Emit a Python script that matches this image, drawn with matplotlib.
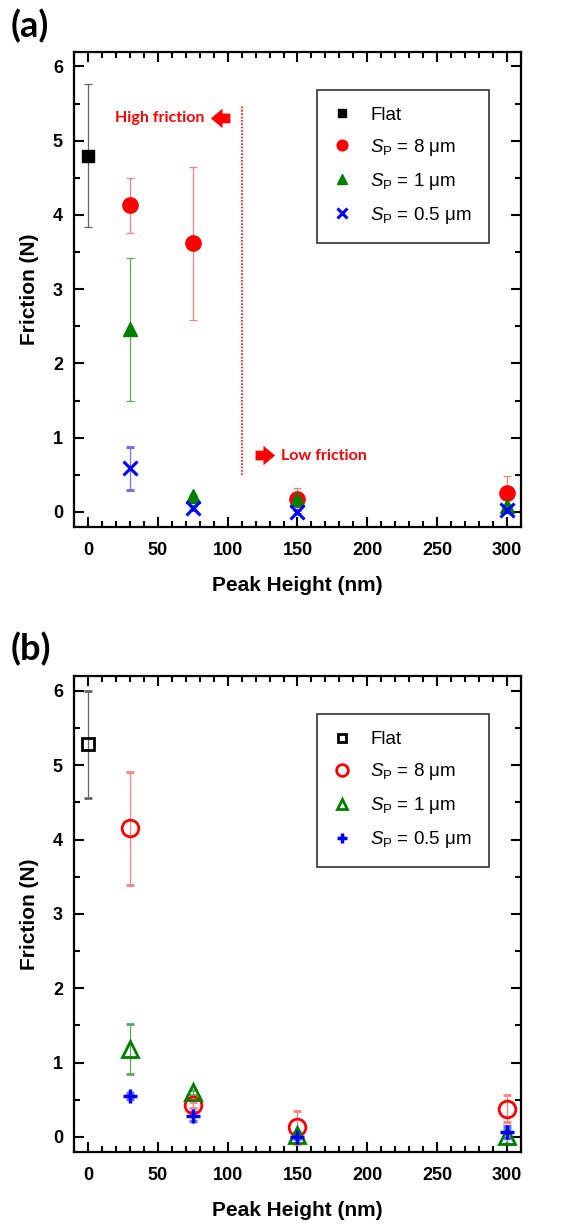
import matplotlib
matplotlib.use("Agg")
import numpy as np
from matplotlib import pyplot as plt
from matplotlib.ticker import MultipleLocator

plt.rcParams['font.family'] = ['Liberation Sans', 'DejaVu Sans']
plt.rcParams['mathtext.fontset'] = 'custom'
plt.rcParams['mathtext.rm'] = 'Liberation Sans'
plt.rcParams['mathtext.it'] = 'Liberation Sans:italic'

# peak heights (nm)
heights = [30, 75, 150, 300]

# panel (a) - filled markers
flat_a, flat_a_err = 4.80, 0.96
sp8_a = [4.13, 3.62, 0.17, 0.25]
sp8_a_err = [0.37, 1.03, 0.15, 0.24]
sp1_a = [2.46, 0.21, 0.17, 0.08]
sp1_a_err = [0.96, 0.03, 0.03, 0.03]
sp05_a = [0.59, 0.05, 0.0, 0.03]
sp05_a_err = [0.29, 0.03, 0.03, 0.03]

# panel (b) - open markers
flat_b, flat_b_err = 5.28, 0.72
sp8_b = [4.15, 0.43, 0.13, 0.38]
sp8_b_err = [0.76, 0.04, 0.22, 0.18]
sp1_b = [1.18, 0.60, 0.03, 0.01]
sp1_b_err = [0.34, 0.03, 0.03, 0.10]
sp05_b = [0.55, 0.28, 0.0, 0.06]
sp05_b_err = [0.04, 0.06, 0.03, 0.08]

labels = ['Flat', r'$S_\mathrm{P}$ = 8 μm', r'$S_\mathrm{P}$ = 1 μm', r'$S_\mathrm{P}$ = 0.5 μm']

fig = plt.figure(figsize=(5.85, 12.28), dpi=100)
ax1 = fig.add_axes([0.1265, 0.571, 0.764, 0.387])
ax2 = fig.add_axes([0.1265, 0.0621, 0.764, 0.3874])


def style(ax):
    ax.set_xlim(-10, 310)
    ax.set_ylim(-0.2, 6.2)
    ax.xaxis.set_major_locator(MultipleLocator(50))
    ax.xaxis.set_minor_locator(MultipleLocator(10))
    ax.yaxis.set_major_locator(MultipleLocator(1))
    ax.yaxis.set_minor_locator(MultipleLocator(0.5))
    ax.tick_params(which='both', direction='in', top=True, right=True, width=1.5)
    ax.tick_params(which='major', length=7.5, labelsize=13)
    ax.tick_params(axis='x', which='major', pad=11)
    ax.tick_params(axis='y', which='major', pad=8)
    ax.tick_params(which='minor', length=4.5)
    for lab in ax.get_xticklabels() + ax.get_yticklabels():
        lab.set_fontweight('bold')
    for sp in ax.spines.values():
        sp.set_linewidth(1.6)
    ax.set_xlabel('Peak Height (nm)', fontsize=15, fontweight='bold', labelpad=12)
    ax.set_ylabel('Friction (N)', fontsize=15, fontweight='bold', labelpad=10)


def add_legend(ax, handles):
    leg = ax.legend(handles, labels, loc='upper right', bbox_to_anchor=(0.928, 0.92),
                    fontsize=13.5, markerscale=0.7, fancybox=False, edgecolor='#333333',
                    framealpha=1, handlelength=0.85, handletextpad=1.1,
                    borderpad=0.9, labelspacing=0.7, borderaxespad=0)
    leg.get_frame().set_linewidth(1.2)


ekw = dict(linestyle='none', elinewidth=0.9, capsize=3, capthick=0.9)
arrow = dict(arrowstyle='simple,head_width=1.0,head_length=0.6,tail_width=0.5',
             color='#ff0000', lw=0, mutation_scale=14, shrinkA=0, shrinkB=0)

# panel (a)
h1 = ax1.errorbar([0], [flat_a], yerr=[flat_a_err], marker='s', ms=9, color='black',
                  ecolor='#666666', **ekw)
h2 = ax1.errorbar(heights, sp8_a, yerr=sp8_a_err, marker='o', ms=11, color='#ff0000',
                  ecolor='#ff8080', **ekw)
h3 = ax1.errorbar(heights, sp1_a, yerr=sp1_a_err, marker='^', ms=10, color='#008000',
                  ecolor='#5aa85a', **ekw)
h4 = ax1.errorbar(heights, sp05_a, yerr=sp05_a_err, marker='x', ms=10, mew=2.2,
                  color='#0000ff', ecolor='#7070ff', **ekw)
style(ax1)
add_legend(ax1, [h1[0], h2[0], h3[0], h4[0]])

ax1.plot([110, 110], [0.5, 5.48], color='#ff0000', ls=(0, (1, 1)), lw=1.2)
ax1.text(19, 5.3, 'High friction', color='#ff0000', fontsize=11.5, family='Lato',
         fontweight='bold', va='center', ha='left')
ax1.annotate('', xy=(88, 5.3), xytext=(102, 5.3), arrowprops=arrow)
ax1.annotate('', xy=(134, 0.76), xytext=(120, 0.76), arrowprops=arrow)
ax1.text(138, 0.76, 'Low friction', color='#ff0000', fontsize=11.5, family='Lato',
         fontweight='bold', va='center', ha='left')

# panel (b)
g1 = ax2.errorbar([0], [flat_b], yerr=[flat_b_err], marker='s', ms=9, mfc='none', mew=2,
                  color='black', ecolor='#666666', **ekw)
g2 = ax2.errorbar(heights, sp8_b, yerr=sp8_b_err, marker='o', ms=12, mfc='none', mew=2,
                  color='#ff0000', ecolor='#ff8080', **ekw)
g3 = ax2.errorbar(heights, sp1_b, yerr=sp1_b_err, marker='^', ms=11, mfc='none', mew=2,
                  color='#008000', ecolor='#5aa85a', **ekw)
g4 = ax2.errorbar(heights, sp05_b, yerr=sp05_b_err, marker='+', ms=10, mew=2.5,
                  color='#0000ff', ecolor='#7070ff', **ekw)
style(ax2)
add_legend(ax2, [g1[0], g2[0], g3[0], g4[0]])

fig.text(0.018, 0.979, '(a)', fontsize=26, fontweight='bold', family='Lato', va='center')
fig.text(0.018, 0.4715, '(b)', fontsize=26, fontweight='bold', family='Lato', va='center')

fig.savefig('out.png', dpi=100)
